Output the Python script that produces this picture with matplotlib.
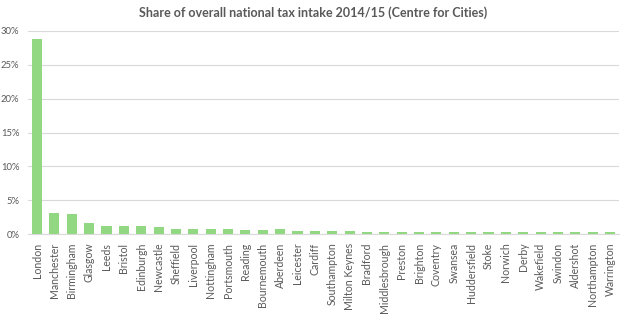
import matplotlib
matplotlib.use('Agg')
import matplotlib.pyplot as plt
from matplotlib.ticker import FuncFormatter

# city names and share of national tax intake (%)
cities = ['London', 'Manchester', 'Birmingham', 'Glasgow', 'Leeds', 'Bristol',
          'Edinburgh', 'Newcastle', 'Sheffield', 'Liverpool', 'Nottingham',
          'Portsmouth', 'Reading', 'Bournemouth', 'Aberdeen', 'Leicester',
          'Cardiff', 'Southampton', 'Milton Keynes', 'Bradford', 'Middlesbrough',
          'Preston', 'Brighton', 'Coventry', 'Swansea', 'Huddersfield', 'Stoke',
          'Norwich', 'Derby', 'Wakefield', 'Swindon', 'Aldershot', 'Northampton',
          'Warrington']
shares = [28.8, 3.1, 3.0, 1.7, 1.2, 1.2, 1.2, 1.1, 0.85, 0.85, 0.75, 0.75,
          0.65, 0.65, 0.75, 0.5, 0.5, 0.5, 0.5, 0.4, 0.4, 0.4, 0.4, 0.4, 0.3,
          0.3, 0.3, 0.3, 0.3, 0.3, 0.3, 0.3, 0.3, 0.3]
y_ticks = [0, 5, 10, 15, 20, 25, 30]

text_col = '#595959'
plt.rcParams['font.family'] = ['Lato', 'DejaVu Sans']

fig = plt.figure(figsize=(6.2, 3.21), dpi=100)
ax = fig.add_axes([0.0457, 0.270, 0.9523, 0.6344])

ax.bar(range(len(cities)), shares, width=0.58, color='#92D883', zorder=3)

ax.set_xlim(-0.5, len(cities) - 0.5)
ax.set_ylim(0, 30)
ax.set_yticks(y_ticks)
ax.yaxis.set_major_formatter(FuncFormatter(lambda v, p: f'{v:.0f}%'))
ax.set_xticks(range(len(cities)))
ax.set_xticklabels(cities, rotation=90, fontsize=7.6, color=text_col)
ax.tick_params(axis='y', labelsize=6.8, colors=text_col, length=0, pad=6.5)
ax.tick_params(axis='x', length=0, pad=6)

ax.grid(axis='y', color='#D9D9D9', linewidth=0.8, zorder=0)
for side in ['top', 'right', 'left']:
    ax.spines[side].set_visible(False)
ax.spines['bottom'].set_color('#D9D9D9')

fig.text(0.505, 0.962, 'Share of overall national tax intake 2014/15 (Centre for Cities)',
         ha='center', va='center', fontsize=9, fontweight='bold', color=text_col)

fig.savefig('out.png', dpi=100)
